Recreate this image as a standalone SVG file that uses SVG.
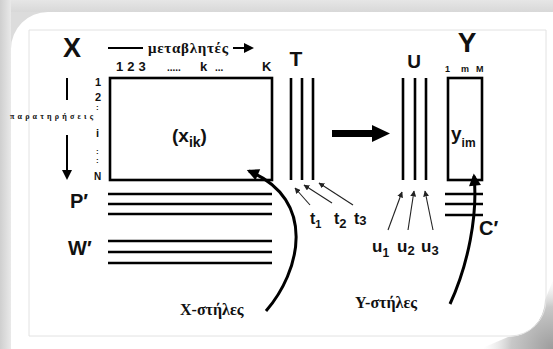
<svg xmlns="http://www.w3.org/2000/svg" width="553" height="349" viewBox="0 0 553 349">
<defs>
<linearGradient id="gl" x1="0" y1="0" x2="1" y2="0"><stop offset="0" stop-color="#cfcfcf"/><stop offset="1" stop-color="#e9e9e9"/></linearGradient>
<linearGradient id="gt" x1="0" y1="0" x2="0" y2="1"><stop offset="0" stop-color="#e6e6e6"/><stop offset="1" stop-color="#d8d8d8"/></linearGradient>
<radialGradient id="gs" cx="553" cy="349" r="70" gradientUnits="userSpaceOnUse"><stop offset="0" stop-color="#9c9c9c"/><stop offset="0.6" stop-color="#c8c8c8"/><stop offset="1" stop-color="#e8e8e8" stop-opacity="0"/></radialGradient>
<marker id="thin" viewBox="0 0 10 10" refX="9" refY="5" markerWidth="6" markerHeight="6" orient="auto" markerUnits="userSpaceOnUse"><path d="M0,0 L10,5 L0,10 Z" fill="#222"/></marker>
<marker id="thick" viewBox="0 0 10 10" refX="8" refY="5" markerWidth="14" markerHeight="12" orient="auto" markerUnits="userSpaceOnUse"><path d="M0,0 L10,5 L0,10 Z" fill="#000"/></marker>
</defs>
<style>
.s{font-family:"Liberation Sans",Arial,sans-serif;font-weight:bold;fill:#111}
.g{font-family:"Liberation Serif","Times New Roman",serif;font-weight:bold;fill:#111}
.ln{stroke:#000;stroke-width:2.6;fill:none}
.th{stroke:#222;stroke-width:1.1;fill:none;marker-end:url(#thin)}
.cv{stroke:#000;stroke-width:3;fill:none;marker-end:url(#thick)}
</style>
<g id="frame">
<rect width="553" height="349" fill="#fff"/>
<rect x="0" y="0" width="553" height="12" fill="url(#gt)"/>
<rect x="0" y="0" width="11" height="349" fill="url(#gl)"/>
<path d="M11,12 H48 A37,37 0 0 0 11,49 Z" fill="#dcdcdc"/>
<path d="M553,280 V349 H480 L508,337 A37,37 0 0 0 545,300 Z" fill="url(#gs)"/>
<path d="M29,30 H546 V300 A36,36 0 0 1 510,336 H29 Z" fill="none" stroke="#e2e2e2" stroke-width="1"/>
</g>
<g id="X">
<text class="s" x="72" y="57" font-size="27" text-anchor="middle">X</text>
<line x1="108" y1="48" x2="143" y2="48" stroke="#000" stroke-width="2"/>
<text class="g" x="148" y="53" font-size="15" textLength="80">μεταβλητές</text>
<line x1="233" y1="48" x2="246" y2="48" stroke="#000" stroke-width="2"/>
<path d="M244,43 L254,48 L244,53 Z" fill="#000"/>
<text class="s" x="116" y="71" font-size="13" letter-spacing="4">123</text>
<text class="s" x="167" y="71" font-size="10">.....</text>
<text class="s" x="200" y="71" font-size="13">k</text>
<text class="s" x="215" y="71" font-size="10">...</text>
<text class="s" x="262" y="71" font-size="13">K</text>
<text class="s" x="95" y="86" font-size="11">1</text>
<text class="s" x="95" y="101" font-size="11">2</text>
<text class="s" x="96" y="110" font-size="8">:</text>
<text class="s" x="96" y="137" font-size="11">i</text>
<text class="s" x="96" y="154" font-size="8">:</text>
<text class="s" x="96" y="163" font-size="8">:</text>
<text class="s" x="94" y="180" font-size="10">N</text>
<text class="g" x="10" y="119" font-size="8" font-weight="normal" textLength="83">παρατηρήσεις</text>
<line x1="67" y1="78" x2="67" y2="100" stroke="#000" stroke-width="2"/>
<line x1="67" y1="135" x2="67" y2="172" stroke="#000" stroke-width="2"/>
<path d="M62,170 L67,180 L72,170 Z" fill="#000"/>
<rect x="110" y="78" width="162" height="102" class="ln"/>
<text class="s" x="172" y="142" font-size="19">(x<tspan font-size="14" dy="5">ik</tspan><tspan dy="-5">)</tspan></text>
</g>
<g id="P">
<text class="s" x="70" y="208" font-size="20">P′</text>
<line x1="108" y1="194" x2="272" y2="194" class="ln"/>
<line x1="108" y1="204" x2="272" y2="204" class="ln"/>
<line x1="108" y1="214" x2="272" y2="214" class="ln"/>
</g>
<g id="W">
<text class="s" x="68" y="255" font-size="20">W′</text>
<line x1="108" y1="241" x2="272" y2="241" class="ln"/>
<line x1="108" y1="252" x2="272" y2="252" class="ln"/>
<line x1="108" y1="263" x2="272" y2="263" class="ln"/>
</g>
<g id="T">
<text class="s" x="296" y="66" font-size="21" text-anchor="middle">T</text>
<line x1="291" y1="78" x2="291" y2="180" class="ln"/>
<line x1="302" y1="78" x2="302" y2="180" class="ln"/>
<line x1="313" y1="78" x2="313" y2="180" class="ln"/>
<text class="s" x="310" y="224" font-size="16">t<tspan font-size="11" dy="4">1</tspan></text>
<text class="s" x="334" y="224" font-size="16">t<tspan font-size="13" dy="4">2</tspan></text>
<text class="s" x="354" y="224" font-size="16">t<tspan font-size="13" dy="1">3</tspan></text>
</g>
<g id="U">
<text class="s" x="414" y="68" font-size="19" text-anchor="middle">U</text>
<line x1="403" y1="78" x2="403" y2="180" class="ln"/>
<line x1="415" y1="78" x2="415" y2="180" class="ln"/>
<line x1="426" y1="78" x2="426" y2="180" class="ln"/>
<text class="s" x="372" y="252" font-size="17">u<tspan font-size="12" dy="5">1</tspan></text>
<text class="s" x="397" y="252" font-size="17">u<tspan font-size="13" dy="3">2</tspan></text>
<text class="s" x="421" y="252" font-size="17">u<tspan font-size="13" dy="3">3</tspan></text>
</g>
<g id="Y">
<text class="s" x="467" y="52" font-size="28" text-anchor="middle">Y</text>
<text class="s" x="445" y="72" font-size="9">1</text>
<text class="s" x="461" y="72" font-size="9">m</text>
<text class="s" x="476" y="72" font-size="9">M</text>
<rect x="448" y="78" width="34" height="102" class="ln"/>
<text class="s" x="451" y="140" font-size="19">y<tspan font-size="12" dy="7">im</tspan></text>
</g>
<g id="C">
<line x1="445" y1="194" x2="483" y2="194" class="ln"/>
<line x1="445" y1="204" x2="483" y2="204" class="ln"/>
<line x1="445" y1="215" x2="483" y2="215" class="ln"/>
<text class="s" x="479" y="235" font-size="20">C′</text>
</g>
<g id="labels">
<text class="g" x="180" y="315" font-size="16">X-στήλες</text>
<text class="g" x="355" y="308" font-size="16">Y-στήλες</text>
</g>
<g id="connectors">
<path d="M332,130 H372 V125 L390,133.5 L372,142 V137 H332 Z" fill="#000"/>
<path class="th" d="M310,205 L295,188"/>
<path class="th" d="M332,203 L304,185"/>
<path class="th" d="M353,205 L319,183"/>
<path class="th" d="M388,230 L402,192"/>
<path class="th" d="M408,230 L414,191"/>
<path class="th" d="M433,230 L425,191"/>
<path class="cv" d="M266,311 C300,272 318,200 249,171"/>
<path class="cv" d="M450,304 C468,265 478,215 474,176"/>
</g>
</svg>
